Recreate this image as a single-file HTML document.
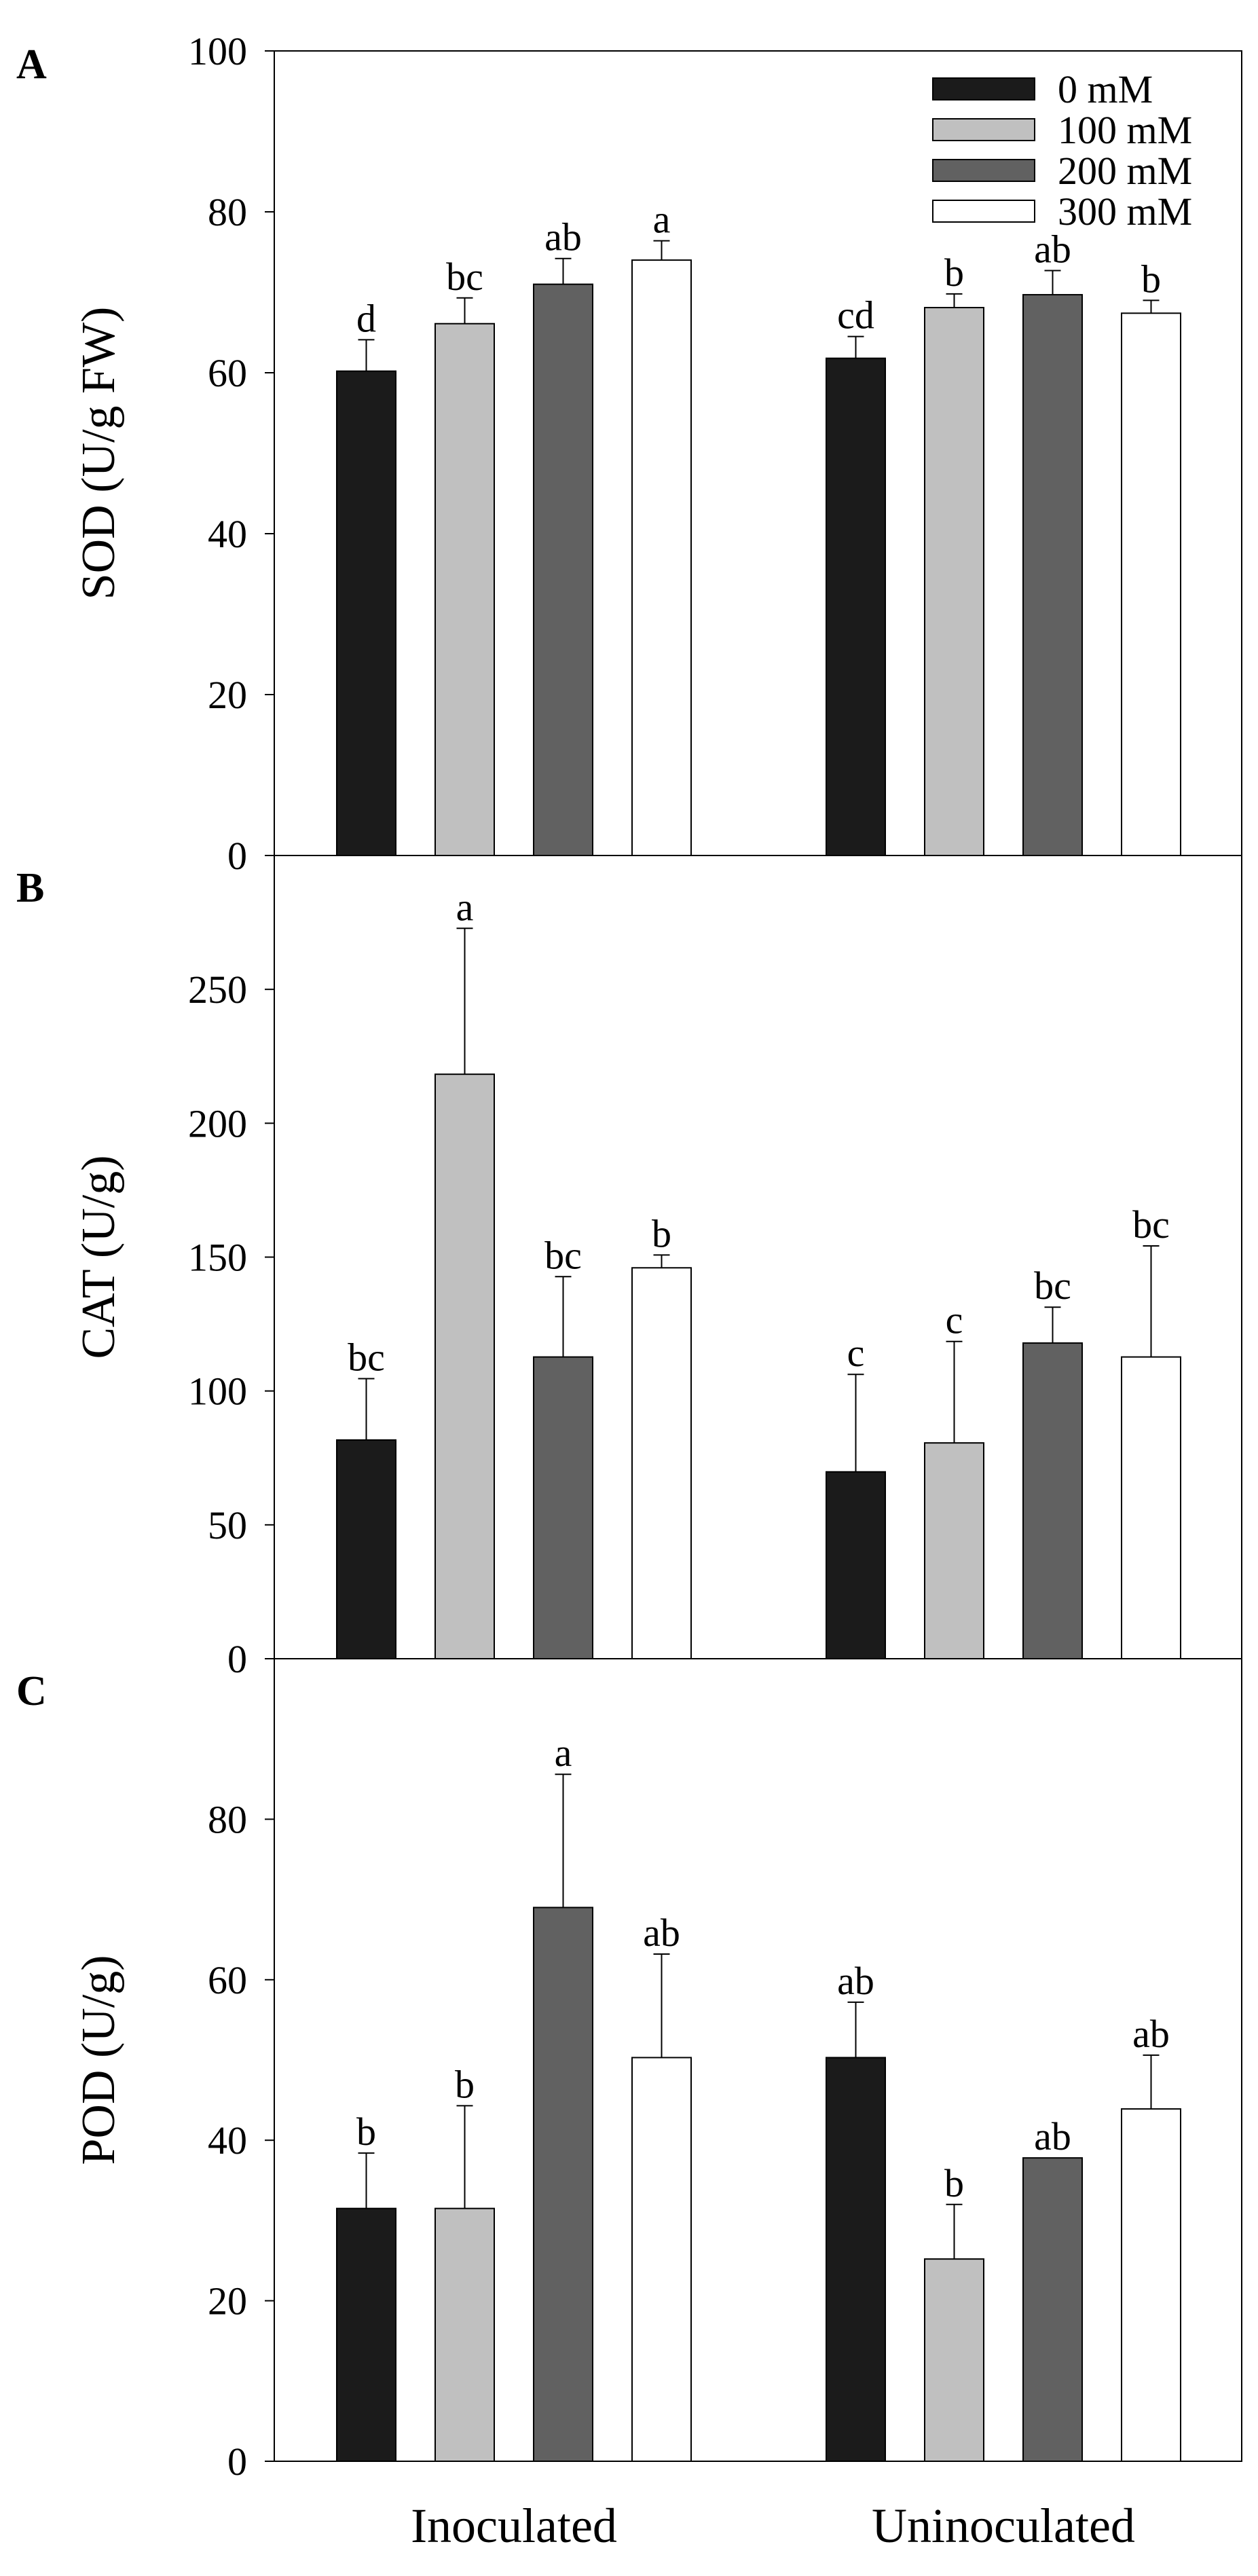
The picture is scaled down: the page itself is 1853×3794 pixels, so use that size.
<!DOCTYPE html>
<html><head><meta charset="utf-8"><style>
html,body{margin:0;padding:0;background:#fff}
svg{display:block}
text{font-family:"Liberation Serif",serif;fill:#000}
</style></head><body>
<svg id="chart" width="1853" height="3794" viewBox="0 0 1853 3794" xmlns="http://www.w3.org/2000/svg"></svg>
<script>
const groups = ["Inoculated","Uninoculated"];
const series = ["0 mM","100 mM","200 mM","300 mM"];
const sodMeans = [[60.2,66.1,71.0,74.0],[61.8,68.1,69.7,67.4]];
const sodErr   = [[3.9,3.2,3.2,2.4],[2.7,1.7,3.0,1.6]];
const sodLetters = [["d","bc","ab","a"],["cd","b","ab","b"]];
const catMeans = [[81.7,218.3,112.7,146.0],[69.8,80.6,117.9,112.7]];
const catErr   = [[22.9,54.5,30.0,4.8],[36.4,37.9,13.4,41.5]];
const catLetters = [["bc","a","bc","b"],["c","c","bc","bc"]];
const podMeans = [[31.5,31.5,69.0,50.3],[50.3,25.2,37.8,43.9]];
const podErr   = [[6.9,12.8,16.6,12.9],[6.9,6.8,0,6.7]];
const podLetters = [["b","b","a","ab"],["ab","b","ab","ab"]];
const sodTicks = [0,20,40,60,80,100];
const catTicks = [0,50,100,150,200,250];
const podTicks = [0,20,40,60,80];

const svg = document.getElementById('chart');
const NS = 'http://www.w3.org/2000/svg';
function mk(tag, attrs, parent){
  const e = document.createElementNS(NS, tag);
  for (const k in attrs) e.setAttribute(k, attrs[k]);
  (parent||svg).appendChild(e);
  return e;
}
const fills = ["#1b1b1b","#c0c0c0","#616161","#ffffff"];
const X0 = 404, X1 = 1829;
const barW = 87, barStep = 145, groupStart = [496, 1217];

const panels = [
  {id:"sod", letter:"A", title:"SOD (U/g FW)", top:75, bottom:1260, max:100, means:sodMeans, err:sodErr, letters:sodLetters, ticks:sodTicks},
  {id:"cat", letter:"B", title:"CAT (U/g)", top:1260, bottom:2443, max:300, means:catMeans, err:catErr, letters:catLetters, ticks:catTicks},
  {id:"pod", letter:"C", title:"POD (U/g)", top:2443, bottom:3625, max:100, means:podMeans, err:podErr, letters:podLetters, ticks:podTicks}
];

panels.forEach(p => {
  const g = mk('g', {});
  
  
  const y = v => p.bottom - v / p.max * (p.bottom - p.top);
  const frame = mk('rect', {x:X0, y:p.top, width:X1-X0, height:p.bottom-p.top, fill:'none', stroke:'#000', 'stroke-width':2}, g);
  
  
  p.ticks.forEach(t => {
    const tk = mk('line', {x1:X0-14, x2:X0, y1:y(t), y2:y(t), stroke:'#000', 'stroke-width':2}, g);
    
    
    const tl = mk('text', {x:X0-40, y:y(t)+20, 'text-anchor':'end', 'font-size':58}, g);
    
    
    tl.textContent = t;
  });
  const yt = mk('text', {x:0, y:0, 'text-anchor':'middle', 'font-size':70, transform:`translate(168,${(p.top+p.bottom)/2}) rotate(-90)`}, g);
  
  
  yt.textContent = p.title;
  const pl = mk('text', {x:24, y:p.top + (p.letter==="A"?40:68), 'font-size':62, 'font-weight':'bold'}, g);
  
  
  pl.textContent = p.letter;
  p.means.forEach((arr, gi) => {
    arr.forEach((v, si) => {
      const bx = groupStart[gi] + si * barStep;
      const cx = bx + barW/2;
      const bar = mk('rect', {x:bx, y:y(v), width:barW, height:p.bottom - y(v), fill:fills[si], stroke:'#000', 'stroke-width':2}, g);
      
      
      const e = p.err[gi][si];
      const yTop = y(v + e);
      if (e > 0) {
        const el = mk('line', {x1:cx, x2:cx, y1:y(v), y2:yTop, stroke:'#000', 'stroke-width':2}, g);
        
        
        const cap = mk('line', {x1:cx-12, x2:cx+12, y1:yTop, y2:yTop, stroke:'#000', 'stroke-width':2}, g);
        
        
      }
      const lt = mk('text', {x:cx, y:yTop - 12, 'text-anchor':'middle', 'font-size':58}, g);
      
      
      lt.textContent = p.letters[gi][si];
    });
  });
});

// legend
const lg = mk('g', {});


series.forEach((s, i) => {
  const cy = 131 + i * 60;
  const sw = mk('rect', {x:1374, y:cy-16, width:150, height:32, fill:fills[i], stroke:'#000', 'stroke-width':2}, lg);
  
  
  const t = mk('text', {x:1558, y:cy+20, 'font-size':58}, lg);
  
  
  t.textContent = s;
});

// x category labels
groups.forEach((gname, gi) => {
  const cx = groupStart[gi] + (3*barStep + barW)/2;
  const t = mk('text', {x:cx, y:3744, 'text-anchor':'middle', 'font-size':72});
  
  
  t.textContent = gname;
});
</script>
</body></html>
